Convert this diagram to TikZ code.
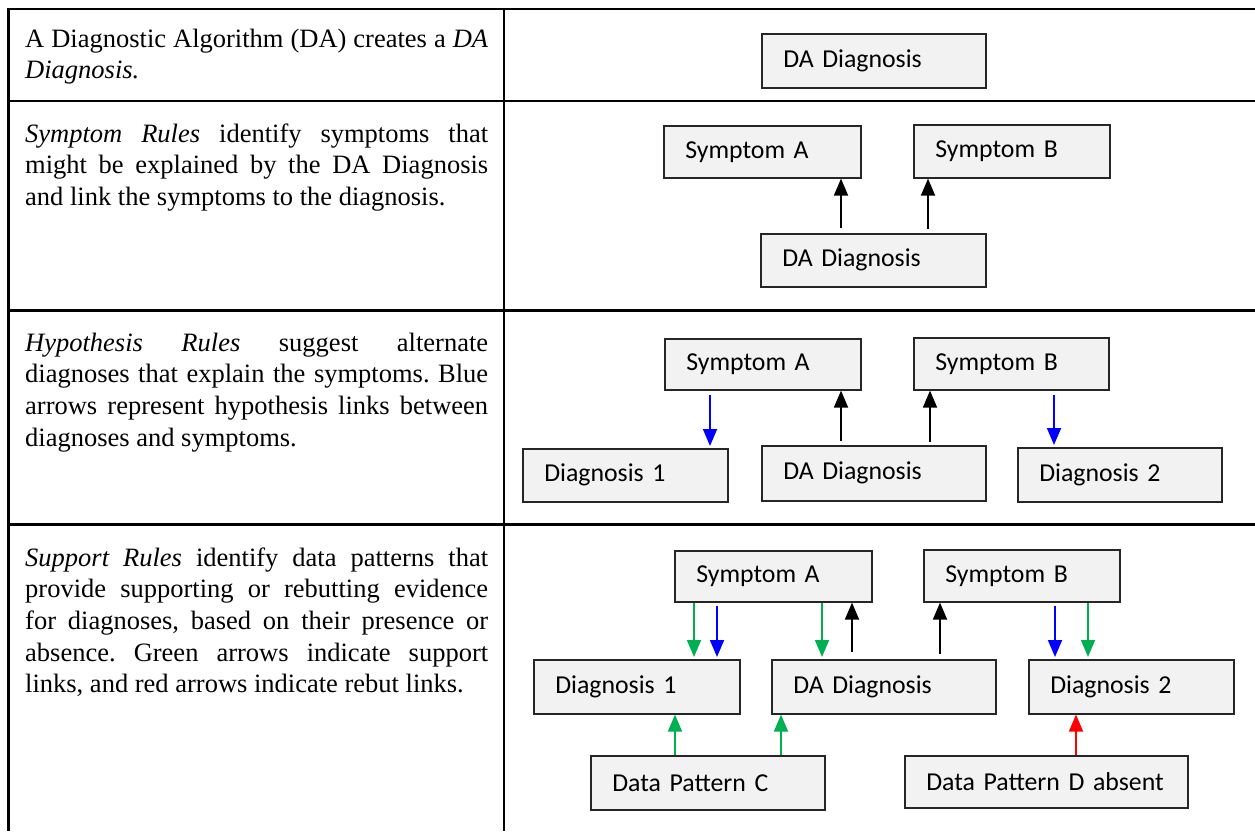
\documentclass[tikz,border=0pt]{standalone}
\usepackage{fontspec}
\setmainfont{Liberation Serif}
\newfontfamily\boxfont[WordSpace=0.6]{Carlito}
\usetikzlibrary{arrows.meta,calc}
\definecolor{boxgray}{HTML}{F2F2F2}
\definecolor{boxline}{HTML}{262626}
\definecolor{sgreen}{HTML}{00B050}
\definecolor{hblue}{HTML}{0000FF}
\definecolor{rred}{HTML}{FF0000}
\begin{document}
\begin{tikzpicture}[x=1pt,y=-1pt,
  tline/.style={line width=2.5pt, black},
  dbox/.style={draw=boxline, line width=1.6pt, fill=boxgray, inner xsep=21.5pt, inner ysep=0pt,
    anchor=north west, font=\boxfont\fontsize{25.8pt}{30pt}\selectfont, align=left,
    execute at begin node={\hyphenpenalty=10000\relax}},
  lefttext/.style={inner sep=0pt, anchor=base west, font=\fontsize{26.5pt}{31.7pt}\selectfont},
  arr/.style={line width=1.8pt, -{Triangle[length=17pt,width=14pt]}},
  karr/.style={arr, black},
  garr/.style={arr, sgreen},
  barr/.style={arr, hblue},
  rarr/.style={arr, rred}]
\useasboundingbox (0,0) rectangle (1255,831);
\fill[white] (0,0) rectangle (1255,831);

% table rules
\draw[tline] (8,9) -- (1255,9);
\draw[tline] (8,101) -- (1255,101);
\draw[tline] (8,310.5) -- (1255,310.5);
\draw[tline] (8,524.5) -- (1255,524.5);
\draw[tline] (8.5,7.8) -- (8.5,831);
\draw[tline] (504,7.8) -- (504,831);

% left column texts
\node[lefttext] (t1) at (25,47) {\parbox[t]{463pt}{\frenchspacing A Diagnostic Algorithm (DA) creates a \emph{DA}\linebreak \emph{Diagnosis.}}};
\node[lefttext] (t2) at (25,142) {\parbox[t]{463pt}{\frenchspacing\emph{Symptom Rules} identify symptoms that\linebreak might be explained by the DA Diagnosis\linebreak and link the symptoms to the diagnosis.}};
\node[lefttext] (t3) at (25,351) {\parbox[t]{463pt}{\frenchspacing\emph{Hypothesis Rules} suggest alternate\linebreak diagnoses that explain the symptoms. Blue\linebreak arrows represent hypothesis links between\linebreak diagnoses and symptoms.}};
\node[lefttext] (t4) at (25,566) {\parbox[t]{463pt}{\frenchspacing\emph{Support Rules} identify data patterns that\linebreak provide supporting or rebutting evidence\linebreak for diagnoses, based on their presence or\linebreak absence. Green arrows indicate support\linebreak links, and red arrows indicate rebut links.}};

% row 1
\node[dbox, text width=181pt, minimum height=54pt] (da1) at (761,33) {DA Diagnosis};

% row 2
\node[dbox, text width=154pt, minimum height=52pt] (sa2) at (663,125) {Symptom A};
\node[dbox, text width=153pt, minimum height=53pt] (sb2) at (913,124) {Symptom B};
\node[dbox, text width=182pt, minimum height=53pt] (da2) at (760,233) {DA Diagnosis};
\coordinate (c21) at ($(da2.north west)+(81,0)$);
\coordinate (c22) at ($(da2.north west)+(168,0)$);
\draw[karr, shorten <=5pt] (c21) -- (c21 |- sa2.south);
\draw[karr, shorten <=4pt] (c22) -- (c22 |- sb2.south);

% row 3
\node[dbox, text width=153pt, minimum height=51pt] (sa3) at (664,338) {Symptom A};
\node[dbox, text width=152pt, minimum height=52pt] (sb3) at (913,337) {Symptom B};
\node[dbox, text width=162pt, minimum height=53pt] (d13) at (522,448) {Diagnosis 1};
\node[dbox, text width=181pt, minimum height=55pt] (da3) at (761,445) {DA Diagnosis};
\node[dbox, text width=161pt, minimum height=54pt] (d23) at (1017,447) {Diagnosis 2};
\coordinate (c31) at ($(sa3.south west)+(46,0)$);
\coordinate (c32) at ($(da3.north west)+(80,0)$);
\coordinate (c33) at ($(da3.north west)+(169,0)$);
\coordinate (c34) at ($(sb3.south west)+(141,0)$);
\draw[barr, shorten <=4pt, shorten >=2pt] (c31) -- (c31 |- d13.north);
\draw[karr, shorten <=4pt] (c32) -- (c32 |- sa3.south);
\draw[karr, shorten <=3pt] (c33) -- (c33 |- sb3.south);
\draw[barr, shorten <=4pt, shorten >=2pt] (c34) -- (c34 |- d23.north);

% row 4
\node[dbox, text width=154pt, minimum height=51pt] (sa4) at (674,550) {Symptom A};
\node[dbox, text width=153pt, minimum height=52pt] (sb4) at (923,549) {Symptom B};
\node[dbox, text width=163pt, minimum height=54pt] (d14) at (533,659) {Diagnosis 1};
\node[dbox, text width=181pt, minimum height=54pt] (da4) at (771,659) {DA Diagnosis};
\node[dbox, text width=162pt, minimum height=54pt] (d24) at (1028,659) {Diagnosis 2};
\node[dbox, text width=191pt, minimum height=54pt] (dpc) at (590,755) {Data Pattern C};
\node[dbox, text width=240pt, minimum height=52pt] (dpd) at (904,755) {Data Pattern D absent};

\coordinate (c41) at ($(sa4.south west)+(20,0)$);
\coordinate (c42) at ($(sa4.south west)+(43,0)$);
\coordinate (c43) at ($(sa4.south west)+(148,0)$);
\coordinate (c44) at ($(da4.north west)+(81,0)$);
\coordinate (c45) at ($(da4.north west)+(169,0)$);
\coordinate (c46) at ($(sb4.south west)+(132,0)$);
\coordinate (c47) at ($(sb4.south west)+(165,0)$);
\draw[garr, shorten >=2pt] (c41) -- (c41 |- d14.north);
\draw[barr, shorten <=3pt, shorten >=2pt] (c42) -- (c42 |- d14.north);
\draw[garr, shorten >=2pt] (c43) -- (c43 |- da4.north);
\draw[karr, shorten <=7pt] (c44) -- (c44 |- sa4.south);
\draw[karr, shorten <=5pt] (c45) -- (c45 |- sb4.south);
\draw[barr, shorten <=3pt, shorten >=2pt] (c46) -- (c46 |- d24.north);
\draw[garr, shorten >=2pt] (c47) -- (c47 |- d24.north);

\coordinate (c48) at ($(dpc.north west)+(85,0)$);
\coordinate (c49) at ($(dpc.north west)+(191,0)$);
\coordinate (c50) at ($(dpd.north west)+(172,0)$);
\draw[garr] (c48) -- (c48 |- d14.south);
\draw[garr] (c49) -- (c49 |- da4.south);
\draw[rarr] (c50) -- (c50 |- d24.south);
\end{tikzpicture}
\end{document}
